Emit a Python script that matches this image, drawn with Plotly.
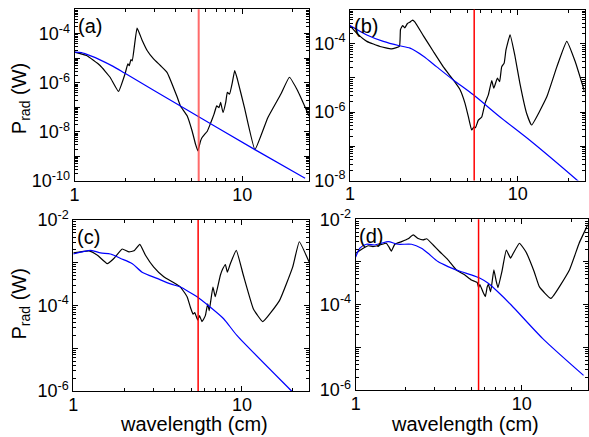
import plotly.graph_objects as go

# ---------------- data: wavelength (cm) and radiated power (W) ----------------
# panel (a)
wl_a_black = [1.00, 1.18, 1.42, 1.63, 1.83, 2.00, 2.08, 2.12, 2.17, 2.21, 2.36, 2.53, 2.71, 2.96,
              3.25, 3.56, 4.09, 4.28, 4.70, 5.03, 5.27, 5.44, 5.64, 5.75, 5.96, 6.19, 6.48, 6.78,
              7.04, 7.27, 7.43, 7.68, 7.97, 8.15, 8.40, 8.73, 9.02, 9.36, 10.3, 11.9, 14.2, 17.0,
              19.1, 21.4, 25.0]
p_a_black = [1.8e-5, 1.3e-5, 5.1e-6, 1.7e-6, 4.5e-7, 2.3e-6, 6.0e-6, 5.0e-6, 8.9e-6, 7.9e-6, 1.7e-4,
             5.5e-5, 2.1e-5, 9.5e-6, 5.1e-6, 2.7e-6, 2.7e-7, 1.15e-7, 4.5e-8, 1.07e-8, 3.1e-9, 1.7e-9,
             4.2e-9, 5.8e-9, 7.9e-9, 1.07e-8, 2.3e-8, 5.2e-8, 1.15e-7, 9.8e-8, 1.6e-7, 6.2e-8, 1.6e-7,
             4.1e-7, 3.5e-7, 1.05e-6, 3.2e-6, 1.4e-6, 1.0e-7, 1.9e-9, 3.8e-8, 3.5e-7, 1.7e-6, 4.8e-7,
             4.5e-8]
wl_a_blue = [1.00, 1.10, 1.25, 1.42, 1.70, 2.00, 4.28, 11.9, 23.7]
p_a_blue = [1.8e-5, 1.7e-5, 1.26e-5, 8.7e-6, 4.7e-6, 2.45e-6, 1.15e-7, 1.9e-9, 1.3e-10]

# panel (b)
wl_b_black = [1.00, 1.10, 1.26, 1.51, 1.77, 1.97, 2.00, 2.06, 2.12, 2.20, 2.28, 2.36, 2.44, 2.74,
              3.14, 3.60, 4.13, 4.53, 4.85, 5.08, 5.31, 5.49, 5.60, 5.82, 6.10, 6.38, 6.68, 7.00,
              7.20, 7.56, 7.80, 8.02, 8.30, 8.51, 9.00, 9.63, 10.3, 11.3, 12.1, 14.9, 17.1, 19.6,
              22.0, 25.0]
p_b_black = [3.4e-4, 2.0e-4, 1.17e-4, 8.3e-5, 7.1e-5, 8.3e-5, 2.6e-4, 3.4e-4, 2.9e-4, 3.9e-4, 4.3e-4,
             4.9e-4, 4.3e-4, 1.7e-4, 5.9e-5, 2.1e-5, 8.7e-6, 4.5e-6, 1.8e-6, 7.2e-7, 3.0e-7, 3.7e-7,
             3.5e-7, 5.8e-7, 7.2e-7, 1.8e-6, 3.2e-6, 8.3e-6, 5.0e-6, 9.8e-6, 7.8e-6, 2.1e-5, 2.7e-5,
             6.6e-5, 1.8e-4, 4.3e-5, 6.9e-6, 9.1e-7, 4.2e-7, 2.8e-6, 2.1e-5, 1.17e-4, 3.0e-5, 4.0e-6]
wl_b_blue = [1.00, 1.26, 1.58, 1.97, 2.28, 2.74, 3.29, 4.13, 5.44, 7.84, 11.8, 22.7, 23.7]
p_b_blue = [3.4e-4, 1.8e-4, 1.17e-4, 8.7e-5, 7.4e-5, 4.3e-5, 2.1e-5, 8.7e-6, 3.2e-6, 7.2e-7, 1.5e-7,
            1.0e-8, 8.3e-9]

# panel (c)
wl_c_black = [1.00, 1.24, 1.39, 1.59, 1.74, 1.95, 2.14, 2.29, 2.48, 2.68, 3.00, 3.44, 3.95, 4.32,
              4.73, 4.95, 5.13, 5.25, 5.47, 5.60, 5.80, 6.07, 6.27, 6.40, 6.73, 6.95, 7.45, 7.70,
              7.98, 8.20, 8.54, 9.26, 10.2, 11.7, 13.3, 16.7, 20.0, 21.9, 25.0]
p_c_black = [1.7e-3, 1.9e-3, 1.5e-3, 9.5e-4, 1.26e-3, 2.1e-3, 1.8e-3, 1.9e-3, 2.7e-3, 1.5e-3, 7.9e-4,
             4.7e-4, 3.4e-4, 2.7e-4, 1.6e-4, 9.1e-5, 6.3e-5, 6.8e-5, 4.6e-5, 5.8e-5, 4.2e-5, 5.8e-5,
             1.1e-4, 7.6e-5, 2.7e-4, 1.6e-4, 5.1e-4, 7.2e-4, 9.1e-4, 6.0e-4, 9.5e-4, 1.95e-3, 5.1e-4,
             8.3e-5, 4.2e-5, 1.3e-4, 7.9e-4, 3.1e-3, 1.05e-3]
wl_c_blue = [1.00, 1.27, 1.45, 1.66, 1.91, 2.24, 2.56, 3.14, 3.77, 4.32, 4.84, 5.42, 6.50, 7.79, 9.34,
             19.7, 23.7]
p_c_blue = [1.6e-3, 1.95e-3, 1.7e-3, 1.6e-3, 1.26e-3, 9.5e-4, 6.0e-4, 4.3e-4, 3.2e-4, 2.7e-4, 2.1e-4,
            1.6e-4, 9.1e-5, 4.9e-5, 2.0e-5, 1.0e-6, 4.8e-7]

# panel (d)
wl_d_black = [1.00, 1.11, 1.19, 1.27, 1.40, 1.53, 1.58, 1.64, 1.72, 1.89, 2.07, 2.22, 2.38, 2.55,
              2.68, 2.93, 3.21, 3.60, 4.04, 4.53, 4.97, 5.40, 5.50, 5.60, 5.84, 6.04, 6.20, 6.30,
              6.50, 6.80, 7.03, 7.20, 7.60, 8.08, 8.57, 8.90, 9.70, 10.6, 11.9, 12.8, 15.0, 19.4,
              22.2, 25.0]
p_d_black = [1.6e-3, 2.1e-3, 2.4e-3, 2.3e-3, 2.5e-3, 2.75e-3, 2.3e-3, 1.8e-3, 2.6e-3, 3.0e-3, 3.5e-3,
             4.3e-3, 3.55e-3, 3.3e-3, 3.5e-3, 2.5e-3, 1.74e-3, 1.12e-3, 6.5e-4, 5.0e-4, 3.8e-4, 3.3e-4,
             2.5e-4, 2.95e-4, 2.0e-4, 1.55e-4, 2.6e-4, 3.0e-4, 2.0e-4, 6.5e-4, 3.5e-4, 2.5e-4, 5.9e-4,
             1.9e-3, 1.23e-3, 1.6e-3, 2.75e-3, 1.74e-3, 5.9e-4, 2.6e-4, 1.4e-4, 6.5e-4, 2.75e-3, 7.4e-3]
wl_d_blue = [1.00, 1.06, 1.16, 1.30, 1.43, 1.57, 1.80, 2.17, 2.49, 2.73, 3.13, 3.60, 4.33, 4.97, 5.58,
             6.26, 7.18, 8.65, 13.4, 23.6]
p_d_blue = [1.3e-3, 2.1e-3, 2.6e-3, 2.5e-3, 2.75e-3, 3.0e-3, 2.6e-3, 2.6e-3, 2.1e-3, 1.6e-3, 1.02e-3,
            7.8e-4, 5.9e-4, 5.0e-4, 4.2e-4, 3.2e-4, 2.0e-4, 9.8e-5, 1.6e-5, 2.2e-6]

# marker wavelength (cm)
wl_marker = 5.5

panel_labels = ["(a)", "(b)", "(c)", "(d)"]
x_tick_vals = [1, 10]
x_tick_text = ["1", "10"]
y_ranges = [(-10, -3), (-8, -3), (-6, -2), (-6, -2)]
y_label_exps = [[-4, -6, -8, -10], [-4, -6, -8], [-2, -4, -6], [-2, -4, -6]]

# ---------------- layout geometry (pixels) ----------------
W, H = 589, 437
boxes = [  # left, right, top, bottom
    (74.5, 309.0, 9.3, 181.0),
    (350.0, 584.5, 9.5, 180.5),
    (73.3, 309.0, 220.0, 391.0),
    (355.7, 587.7, 219.3, 390.0),
]

FONT = "Liberation Sans, Arial, sans-serif"

fig = go.Figure()

series = [
    (wl_a_black, p_a_black, wl_a_blue, p_a_blue),
    (wl_b_black, p_b_black, wl_b_blue, p_b_blue),
    (wl_c_black, p_c_black, wl_c_blue, p_c_blue),
    (wl_d_black, p_d_black, wl_d_blue, p_d_blue),
]

for i, (wb, pb, wu, pu) in enumerate(series):
    sfx = "" if i == 0 else str(i + 1)
    fig.add_trace(go.Scatter(x=wb, y=pb, mode="lines",
                             line=dict(color="black", width=1.2, shape="spline", smoothing=0.35),
                             xaxis="x" + sfx, yaxis="y" + sfx, showlegend=False))
    fig.add_trace(go.Scatter(x=wu, y=pu, mode="lines",
                             line=dict(color="#0000ff", width=1.2, shape="spline", smoothing=0.7),
                             xaxis="x" + sfx, yaxis="y" + sfx, showlegend=False))

minor_x = [k for k in range(2, 10)] + [20]

for i, (l, r, t, b) in enumerate(boxes):
    sfx = "" if i == 0 else str(i + 1)
    lo, hi = y_ranges[i]
    major_y = [10.0 ** e for e in range(lo, hi + 1)]
    major_txt = [("10<sup>%d</sup>" % e) if e in y_label_exps[i] else "" for e in range(lo, hi + 1)]
    minor_y = [k * 10.0 ** e for e in range(lo, hi) for k in range(2, 10)]
    xa = dict(
        type="log", range=[0, 1.39794], domain=[l / W, r / W], automargin=False,
        anchor="y" + sfx, showgrid=False, zeroline=False,
        showline=True, linecolor="black", linewidth=1, mirror="allticks",
        ticks="inside", ticklen=5, tickcolor="black", tickwidth=1, ticklabelstandoff=-3,
        tickmode="array", tickvals=x_tick_vals, ticktext=x_tick_text,
        tickfont=dict(family=FONT, size=18, color="black"),
        minor=dict(ticks="inside", ticklen=3, tickcolor="black", tickmode="array", tickvals=minor_x,
                   showgrid=False),
    )
    ya = dict(
        type="log", range=[lo, hi], domain=[1 - b / H, 1 - t / H], automargin=False,
        anchor="x" + sfx, showgrid=False, zeroline=False,
        showline=True, linecolor="black", linewidth=1, mirror="allticks",
        ticks="inside", ticklen=5, tickcolor="black", tickwidth=1,
        tickmode="array", tickvals=major_y, ticktext=major_txt,
        tickfont=dict(family=FONT, size=18, color="black"),
        minor=dict(ticks="inside", ticklen=3, tickcolor="black", tickmode="array", tickvals=minor_y,
                   showgrid=False),
    )
    fig.layout["xaxis" + sfx] = xa
    fig.layout["yaxis" + sfx] = ya

    # vertical marker line
    fig.add_shape(type="line", xref="x" + sfx, yref="y" + sfx + " domain",
                  x0=wl_marker, x1=wl_marker, y0=0, y1=1, layer="above",
                  line=dict(color="rgba(255,70,70,0.8)" if i == 0 else "#ff0000",
                            width=2 if i == 0 else 1.5))

    # panel tag
    fig.add_annotation(text=panel_labels[i], xref="paper", yref="paper",
                       x=(l + 1.5) / W, y=1 - (t + 17) / H, xanchor="left", yanchor="middle",
                       showarrow=False, font=dict(family=FONT, size=20, color="black"))

# axis titles
for cy in [(9.3 + 181.0) / 2 + 4, (220.0 + 391.0) / 2 - 1]:
    fig.add_annotation(text="P<sub>rad</sub> (W)", xref="paper", yref="paper",
                       x=20 / W, y=1 - cy / H, xanchor="center", yanchor="middle", textangle=-90,
                       showarrow=False, font=dict(family=FONT, size=20, color="black"))
for cx in [194, 465]:
    fig.add_annotation(text="wavelength (cm)", xref="paper", yref="paper",
                       x=cx / W, y=1 - 424 / H, xanchor="center", yanchor="middle",
                       showarrow=False, font=dict(family=FONT, size=20, color="black"))

fig.update_layout(width=W, height=H, margin=dict(l=0, r=0, t=0, b=0, pad=0, autoexpand=False),
                  paper_bgcolor="white", plot_bgcolor="white", showlegend=False)

fig.write_html("out.html")
